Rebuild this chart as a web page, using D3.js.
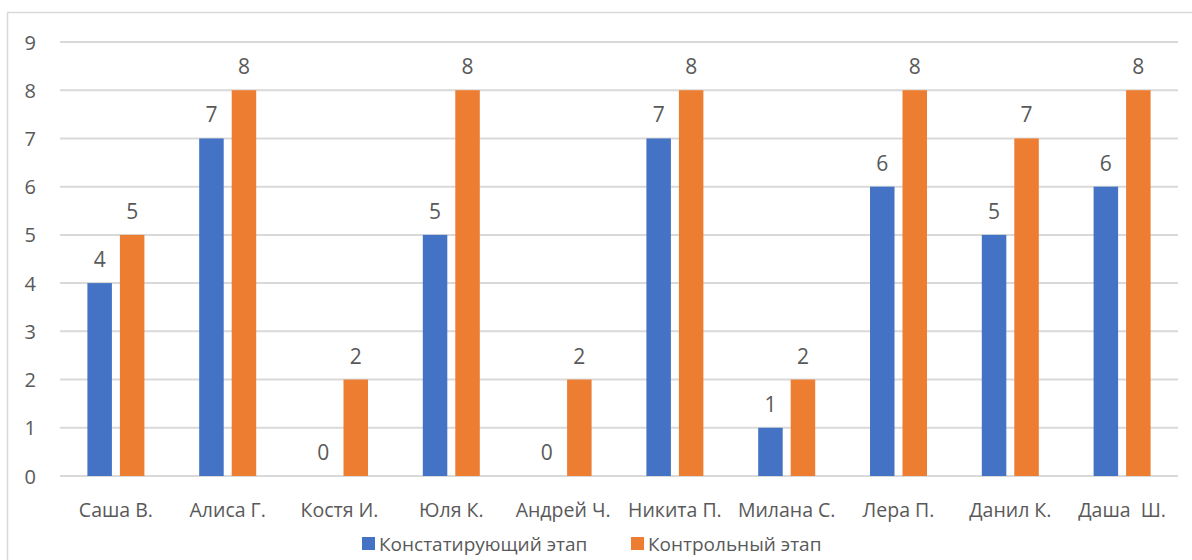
<!DOCTYPE html>
<html>
<head>
<meta charset="utf-8">
<script src="https://cdn.jsdelivr.net/npm/d3@7"></script>
<style>
  html, body { margin: 0; padding: 0; background: #fff; }
  svg text { font-family: "Open Sans", "Noto Sans", sans-serif; fill: #595959; }
</style>
</head>
<body>
<svg id="chart" width="1192" height="560"></svg>
<script>
// Students and their scores at the two stages
const students = ["Саша В.", "Алиса Г.", "Костя И.", "Юля К.", "Андрей Ч.", "Никита П.", "Милана С.", "Лера П.", "Данил К.", "Даша  Ш."];
const stageNames = ["Констатирующий этап", "Контрольный этап"];
const ascertainingScores = [4, 7, 0, 5, 0, 7, 1, 6, 5, 6];
const controlScores = [5, 8, 2, 8, 2, 8, 2, 8, 7, 8];
const yTicks = [0, 1, 2, 3, 4, 5, 6, 7, 8, 9];
const stageColors = ["#4472C4", "#ED7D31"];

const rows = students.map((name, i) => ({
  name,
  values: [ascertainingScores[i], controlScores[i]]
}));

const svg = d3.select("#chart");

// chart frame
svg.append("rect")
  .attr("x", 7.5).attr("y", 12.5)
  .attr("width", 1300).attr("height", 700)
  .attr("fill", "none")
  .attr("stroke", "#d9d9d9")
  .attr("stroke-width", 1.5);

const plot = { left: 60, right: 1178, top: 42, bottom: 476 };

const x0 = d3.scaleBand()
  .domain(students)
  .range([plot.left, plot.right])
  .padding(0);

const groupWidth = 57;
const x1 = d3.scaleBand()
  .domain([0, 1])
  .range([-groupWidth / 2, groupWidth / 2])
  .paddingInner(0.246)
  .paddingOuter(0);

const y = d3.scaleLinear()
  .domain([0, 9])
  .range([plot.bottom, plot.top]);

// horizontal gridlines
svg.append("g")
  .selectAll("line")
  .data(yTicks)
  .join("line")
  .attr("x1", plot.left)
  .attr("x2", plot.right)
  .attr("y1", d => y(d))
  .attr("y2", d => y(d))
  .attr("stroke", "#d9d9d9")
  .attr("stroke-width", 2);

// y axis labels
const yAxis = d3.axisLeft(y).tickValues(yTicks).tickSize(0).tickPadding(0);
const yg = svg.append("g")
  .attr("transform", `translate(${plot.left - 24},0)`)
  .call(yAxis);
yg.select(".domain").remove();
yg.selectAll("text")
  .attr("font-size", 20)
  .attr("dy", "0.35em")
  .style("font-family", "\"Open Sans\", sans-serif")
  .attr("fill", "#595959");

// bars
const groups = svg.append("g")
  .selectAll("g")
  .data(rows)
  .join("g")
  .attr("transform", d => `translate(${x0(d.name) + x0.bandwidth() / 2},0)`);

groups.selectAll("rect")
  .data(d => d.values.map((v, k) => ({ v, k })))
  .join("rect")
  .attr("x", d => x1(d.k))
  .attr("width", x1.bandwidth())
  .attr("y", d => y(d.v))
  .attr("height", d => y(0) - y(d.v))
  .attr("fill", d => stageColors[d.k]);

// value labels
groups.selectAll("text.value")
  .data(d => d.values.map((v, k) => ({ v, k })))
  .join("text")
  .attr("class", "value")
  .attr("x", d => x1(d.k) + x1.bandwidth() / 2)
  .attr("y", d => y(d.v) - 16)
  .attr("text-anchor", "middle")
  .attr("font-size", 21)
  .text(d => d.v);

// category axis
const xAxis = d3.axisBottom(x0).tickSize(0).tickPadding(0);
const xg = svg.append("g")
  .attr("transform", `translate(0,${plot.bottom + 41})`)
  .call(xAxis);
xg.select(".domain").remove();
xg.selectAll("text")
  .attr("dy", 0)
  .attr("font-size", 19.5)
  .style("font-family", "\"Open Sans\", sans-serif")
  .attr("fill", "#595959")
  .style("white-space", "pre");

// legend
const legendItems = [
  { label: stageNames[0], color: stageColors[0], x: 362 },
  { label: stageNames[1], color: stageColors[1], x: 631 }
];
const legend = svg.append("g");
const li = legend.selectAll("g")
  .data(legendItems)
  .join("g")
  .attr("transform", d => `translate(${d.x},537)`);
li.append("rect")
  .attr("width", 13).attr("height", 13)
  .attr("fill", d => d.color);
li.append("text")
  .attr("x", 17)
  .attr("y", 14)
  .attr("font-size", 19)
  .text(d => d.label);
</script>
</body>
</html>
